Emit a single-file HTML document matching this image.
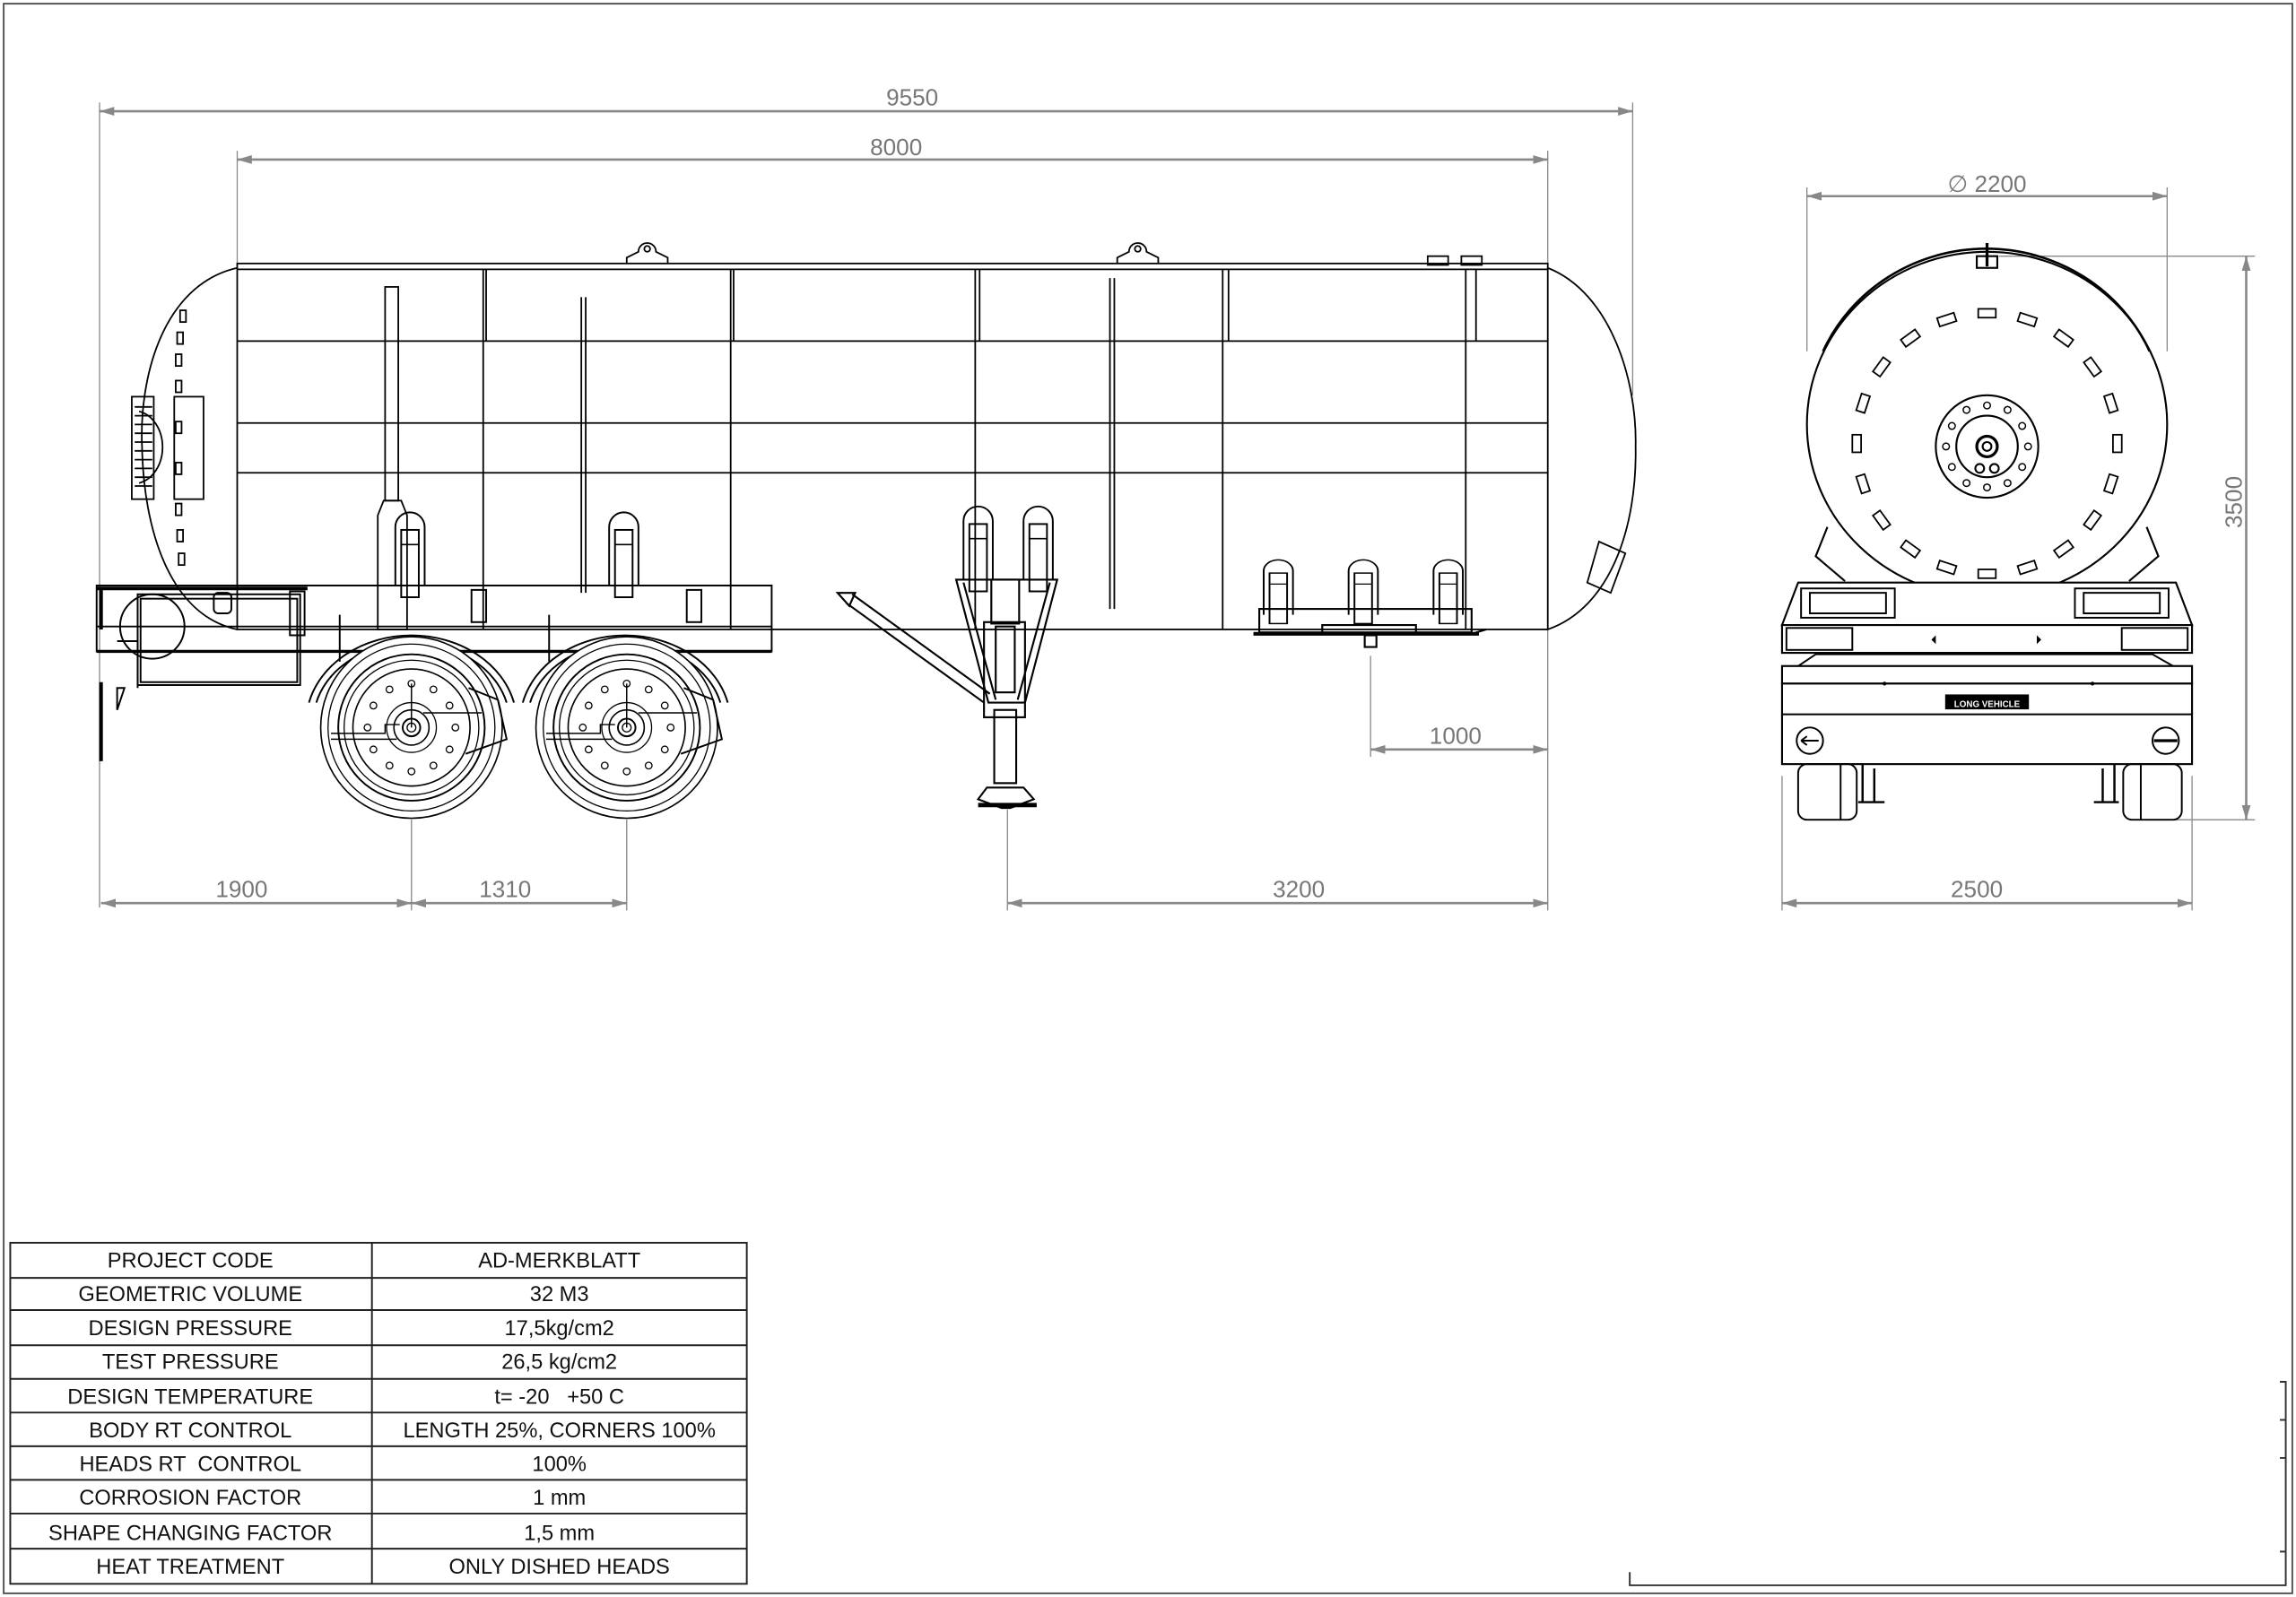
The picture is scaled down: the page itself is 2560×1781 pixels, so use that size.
<!DOCTYPE html>
<html><head><meta charset="utf-8"><style>
html,body{margin:0;padding:0;background:#fff;}
svg{display:block}
text{font-family:"Liberation Sans",sans-serif;}
</style></head><body>
<svg width="2560" height="1781" viewBox="0 0 1568 1091" preserveAspectRatio="none" xmlns="http://www.w3.org/2000/svg">
<defs>
<marker id="ar" viewBox="0 0 10 6" refX="10" refY="3" markerWidth="10" markerHeight="6" markerUnits="userSpaceOnUse" orient="auto-start-reverse"><path d="M0,0 L10,3 L0,6 z" fill="#888"/></marker>
<g id="wheel">
<circle r="62" fill="#fff" stroke="#000" stroke-width="1"/>
<circle r="57" fill="none" stroke="#000" stroke-width="0.8"/>
<circle r="50" fill="none" stroke="#000" stroke-width="1.2"/>
<circle r="46" fill="none" stroke="#000" stroke-width="0.8"/>
<circle r="40" fill="none" stroke="#000" stroke-width="1"/>
<circle r="17" fill="none" stroke="#000" stroke-width="0.8"/>
<circle r="12" fill="none" stroke="#000" stroke-width="1"/>
<circle r="6" fill="none" stroke="#000" stroke-width="1.2"/>
<circle r="3" fill="none" stroke="#000" stroke-width="0.8"/>
<g fill="none" stroke="#000" stroke-width="0.8">
<circle cx="0" cy="-30" r="2.3"/><circle cx="0" cy="30" r="2.3"/><circle cx="30" cy="0" r="2.3"/><circle cx="-30" cy="0" r="2.3"/>
<circle cx="15" cy="-26" r="2.3"/><circle cx="26" cy="-15" r="2.3"/><circle cx="26" cy="15" r="2.3"/><circle cx="15" cy="26" r="2.3"/>
<circle cx="-15" cy="-26" r="2.3"/><circle cx="-26" cy="-15" r="2.3"/><circle cx="-26" cy="15" r="2.3"/><circle cx="-15" cy="26" r="2.3"/>
</g>
<path d="M-55,4 H-18 V-2 H-8 M8,-10 H48 M-55,8 H-10 M0,-30 V0" fill="none" stroke="#000" stroke-width="0.9"/>
</g>
<g id="hand">
<path d="M-10,40 V0 A10,10 0 0 1 10,0 V40" fill="none" stroke="#000" stroke-width="1.2"/>
<rect x="-6" y="2" width="12" height="46" fill="none" stroke="#000" stroke-width="1.2"/>
<line x1="-6" y1="12" x2="6" y2="12" stroke="#000"/>
</g>
<rect id="dash" x="-6" y="-3" width="12" height="6" fill="none" stroke="#000" stroke-width="1.1"/>
<rect id="hd" x="-2" y="-4" width="4" height="8" fill="none" stroke="#000" stroke-width="1.1"/>
</defs>

<rect x="2.5" y="2.5" width="1563" height="1086" fill="none" stroke="#555" stroke-width="1.2"/>
<path d="M1113,1074 V1083 H1561 V944 H1557 M1557,970 H1561 M1557,996 H1561 M1557,1060 H1561" fill="none" stroke="#333" stroke-width="1.2"/>

<g stroke="#888" stroke-width="0.8" fill="none">
<line x1="68" y1="70" x2="68" y2="620"/>
<line x1="1115" y1="70" x2="1115" y2="270"/>
<line x1="162" y1="103" x2="162" y2="180"/>
<line x1="1057" y1="103" x2="1057" y2="180"/>
<line x1="1057" y1="430" x2="1057" y2="622"/>
<line x1="281" y1="560" x2="281" y2="622"/>
<line x1="428" y1="560" x2="428" y2="622"/>
<line x1="688" y1="553" x2="688" y2="622"/>
<line x1="936" y1="448" x2="936" y2="517"/>
<line x1="1234" y1="128" x2="1234" y2="240"/>
<line x1="1480" y1="128" x2="1480" y2="240"/>
<line x1="1217" y1="530" x2="1217" y2="622"/>
<line x1="1497" y1="530" x2="1497" y2="622"/>
<line x1="1365" y1="175" x2="1540" y2="175"/>
<line x1="1480" y1="560" x2="1540" y2="560"/>
</g>
<g stroke="#888" stroke-width="1.6" fill="none" marker-start="url(#ar)" marker-end="url(#ar)">
<line x1="68" y1="76" x2="1115" y2="76"/>
<line x1="162" y1="109" x2="1057" y2="109"/>
<line x1="69" y1="617" x2="281" y2="617"/>
<line x1="281" y1="617" x2="428" y2="617"/>
<line x1="688" y1="617" x2="1057" y2="617"/>
<line x1="936" y1="512" x2="1057" y2="512"/>
<line x1="1234" y1="134" x2="1480" y2="134"/>
<line x1="1217" y1="617" x2="1497" y2="617"/>
<line x1="1534" y1="175" x2="1534" y2="560"/>
</g>
<g fill="#777" font-size="16" text-anchor="middle">
<text x="623" y="72">9550</text>
<text x="612" y="106">8000</text>
<text x="165" y="613">1900</text>
<text x="345" y="613">1310</text>
<text x="887" y="613">3200</text>
<text x="994" y="508">1000</text>
<text x="1357" y="131">∅ 2200</text>
<text x="1350" y="613">2500</text>
<text x="1531" y="343" transform="rotate(-90 1531 343)">3500</text>
</g>

<g fill="none" stroke="#000" stroke-width="1.1">
<path d="M162,183 C110,195 95,260 97,305 C98,360 115,420 162,430"/>
<path d="M1057,183 C1100,200 1118,260 1117,305 C1118,360 1100,415 1057,430"/>
<rect x="162" y="180" width="895" height="250"/>
<line x1="162" y1="184" x2="1057" y2="184"/>
<line x1="162" y1="233" x2="1057" y2="233"/>
<line x1="162" y1="289" x2="1057" y2="289"/>
<line x1="162" y1="323" x2="1057" y2="323"/>
<line x1="330" y1="184" x2="330" y2="430"/><line x1="332" y1="184" x2="332" y2="233"/>
<line x1="499" y1="184" x2="499" y2="430"/><line x1="501" y1="184" x2="501" y2="233"/>
<line x1="666" y1="184" x2="666" y2="430"/><line x1="669" y1="184" x2="669" y2="233"/>
<line x1="835" y1="184" x2="835" y2="430"/><line x1="839" y1="184" x2="839" y2="233"/>
<line x1="1001" y1="184" x2="1001" y2="430"/><line x1="1008" y1="184" x2="1008" y2="233"/>
<rect x="975" y="175" width="14" height="6"/><rect x="998" y="175" width="14" height="6"/>
<path d="M428,180 V176 L436,172 A6,6 0 0 1 448,172 L456,176 V180"/><circle cx="442" cy="170" r="2"/>
<path d="M763,180 V176 L771,172 A6,6 0 0 1 783,172 L791,176 V180"/><circle cx="777" cy="170" r="2"/>
<rect x="90" y="271" width="15" height="70"/>
<path d="M92,278 H104 M92,284 H104 M92,290 H104 M92,296 H104 M92,302 H104 M92,308 H104 M92,314 H104 M92,320 H104 M92,326 H104 M92,332 H104"/>
<path d="M95,281 A20,25 0 0 1 95,330"/>
<rect x="119" y="271" width="20" height="70"/>
<path d="M1092,370 L1110,378 L1100,405 L1084,398 Z"/>
<rect x="263" y="196" width="9" height="146"/>
<path d="M262,342 H274 L278,352 V430 H258 V352 Z"/>
<line x1="397" y1="203" x2="397" y2="405"/><line x1="400" y1="203" x2="400" y2="405"/>
<line x1="758" y1="190" x2="758" y2="416"/><line x1="761" y1="190" x2="761" y2="416"/>
</g>
<use href="#hd" x="125" y="216"/><use href="#hd" x="123" y="231"/><use href="#hd" x="122" y="246"/>
<use href="#hd" x="122" y="264"/><use href="#hd" x="122" y="292"/><use href="#hd" x="122" y="320"/>
<use href="#hd" x="122" y="348"/><use href="#hd" x="123" y="366"/><use href="#hd" x="124" y="382"/>
<g transform="translate(280,360)"><use href="#hand"/></g>
<g transform="translate(426,360)"><use href="#hand"/></g>
<g transform="translate(668,356)"><use href="#hand"/></g>
<g transform="translate(709,356)"><use href="#hand"/></g>
<g transform="translate(873,390) scale(1,0.75)"><use href="#hand"/></g>
<g transform="translate(931,390) scale(1,0.75)"><use href="#hand"/></g>
<g transform="translate(989,390) scale(1,0.75)"><use href="#hand"/></g>
<g fill="none" stroke="#000" stroke-width="1.3">
<rect x="860" y="416" width="145" height="16"/>
<line x1="856" y1="433" x2="1010" y2="433" stroke-width="2.5"/>
<line x1="1005" y1="433" x2="1015" y2="430"/>
<rect x="903" y="427" width="64" height="6"/>
<rect x="932" y="434" width="8" height="8"/>
</g>

<g fill="none" stroke="#000" stroke-width="1.2">
<rect x="66" y="400" width="461" height="45"/>
<line x1="66" y1="402" x2="210" y2="402" stroke-width="2.5"/>
<line x1="66" y1="428" x2="527" y2="428"/>
<line x1="66" y1="445" x2="527" y2="445" stroke-width="2"/>
<rect x="94" y="406" width="111" height="62"/>
<rect x="96" y="409" width="107" height="57"/>
<circle cx="104" cy="428" r="22"/>
<path d="M69,402 V430 M69,466 V520" stroke-width="2.5"/>
<path d="M80,438 H94 V470 M80,470 H85 L80,485 Z"/>
<rect x="146" y="405" width="12" height="14" rx="3"/>
<rect x="198" y="404" width="10" height="30"/>
<line x1="232" y1="420" x2="232" y2="452"/>
<line x1="375" y1="420" x2="375" y2="452"/>
<rect x="322" y="403" width="10" height="22"/>
<rect x="469" y="403" width="10" height="22"/>
</g>
<g fill="none" stroke="#000" stroke-width="1.2">
<path d="M211,480 A72,60 0 0 1 351,480"/>
<path d="M216,480 A67,54 0 0 1 346,480"/>
<path d="M357,480 A72,60 0 0 1 497,480"/>
<path d="M362,480 A67,54 0 0 1 492,480"/>
</g>
<use href="#wheel" x="281" y="497"/>
<use href="#wheel" x="428" y="497"/>
<g fill="none" stroke="#000" stroke-width="1.2">
<path d="M320,470 L340,478 L346,505 L318,515"/>
<path d="M467,470 L487,478 L493,505 L465,515"/>
</g>

<g fill="none" stroke="#000" stroke-width="1.3">
<path d="M653,396 H722 L700,480 H675 Z"/>
<path d="M658,398 L680,478 M717,398 L695,478"/>
<rect x="677" y="396" width="19" height="30"/>
<rect x="672" y="425" width="28" height="65"/>
<rect x="680" y="428" width="13" height="45"/>
<rect x="679" y="485" width="15" height="50"/>
<path d="M674,538 H699 L706,546 L690,552 H684 L668,546 Z"/>
<line x1="668" y1="550" x2="708" y2="550" stroke-width="3"/>
<path d="M578,412 L672,480 M582,406 L676,474"/>
<path d="M572,405 H584 L580,414 Z"/>
</g>

<g fill="none" stroke="#000" stroke-width="1.3">
<ellipse cx="1357" cy="290" rx="123" ry="118"/>
<path d="M1245,240 A122,118 0 0 1 1468,240" stroke-width="1.6"/>
<rect x="1350" y="175" width="14" height="8"/>
<line x1="1357" y1="166" x2="1357" y2="182" stroke-width="2"/>
<ellipse cx="1357" cy="305" rx="35" ry="35"/>
<ellipse cx="1357" cy="305" rx="21" ry="21"/>
<circle cx="1357" cy="305" r="7" stroke-width="2"/>
<circle cx="1357" cy="305" r="3"/>
<circle cx="1352" cy="320" r="3"/><circle cx="1362" cy="320" r="3"/>
<g stroke-width="0.9">
<circle cx="1357" cy="277" r="2.3"/><circle cx="1357" cy="333" r="2.3"/><circle cx="1329" cy="305" r="2.3"/><circle cx="1385" cy="305" r="2.3"/>
<circle cx="1371" cy="280" r="2.3"/><circle cx="1381" cy="291" r="2.3"/><circle cx="1381" cy="319" r="2.3"/><circle cx="1371" cy="330" r="2.3"/>
<circle cx="1343" cy="280" r="2.3"/><circle cx="1333" cy="291" r="2.3"/><circle cx="1333" cy="319" r="2.3"/><circle cx="1343" cy="330" r="2.3"/>
</g>
<path d="M1248,360 L1240,380 L1260,397 M1466,360 L1474,380 L1454,397"/>
</g>
<g transform="translate(1357,303)">
<use href="#dash" transform="rotate(0) translate(0,-89)"/>
<use href="#dash" transform="rotate(18) translate(0,-89)"/>
<use href="#dash" transform="rotate(36) translate(0,-89)"/>
<use href="#dash" transform="rotate(54) translate(0,-89)"/>
<use href="#dash" transform="rotate(72) translate(0,-89)"/>
<use href="#dash" transform="rotate(90) translate(0,-89)"/>
<use href="#dash" transform="rotate(108) translate(0,-89)"/>
<use href="#dash" transform="rotate(126) translate(0,-89)"/>
<use href="#dash" transform="rotate(144) translate(0,-89)"/>
<use href="#dash" transform="rotate(162) translate(0,-89)"/>
<use href="#dash" transform="rotate(180) translate(0,-89)"/>
<use href="#dash" transform="rotate(198) translate(0,-89)"/>
<use href="#dash" transform="rotate(216) translate(0,-89)"/>
<use href="#dash" transform="rotate(234) translate(0,-89)"/>
<use href="#dash" transform="rotate(252) translate(0,-89)"/>
<use href="#dash" transform="rotate(270) translate(0,-89)"/>
<use href="#dash" transform="rotate(288) translate(0,-89)"/>
<use href="#dash" transform="rotate(306) translate(0,-89)"/>
<use href="#dash" transform="rotate(324) translate(0,-89)"/>
<use href="#dash" transform="rotate(342) translate(0,-89)"/>
</g>
<g fill="#fff" stroke="#000" stroke-width="1.3">
<path d="M1228,398 H1486 L1497,427 H1217 Z"/>
<rect x="1217" y="427" width="280" height="19"/>
<rect x="1217" y="455" width="280" height="12"/>
<rect x="1217" y="467" width="280" height="55"/>
</g>
<g fill="none" stroke="#000" stroke-width="1.2">
<rect x="1230" y="402" width="64" height="20"/><rect x="1236" y="405" width="52" height="14"/>
<rect x="1417" y="402" width="64" height="20"/><rect x="1423" y="405" width="52" height="14"/>
<rect x="1220" y="429" width="45" height="15"/><rect x="1449" y="429" width="45" height="15"/>
<path d="M1228,455 L1240,447 H1470 L1484,455"/>
<line x1="1217" y1="488" x2="1497" y2="488"/>
<rect x="1329" y="475" width="56" height="9" fill="#000"/>
<circle cx="1236" cy="506" r="9"/><path d="M1230,506 H1242 M1230,506 l4,-3 M1230,506 l4,3"/>
<circle cx="1479" cy="506" r="9"/><line x1="1471" y1="506" x2="1487" y2="506" stroke-width="2"/>
<rect x="1228" y="522" width="40" height="38" rx="6"/><line x1="1257" y1="522" x2="1257" y2="560"/>
<rect x="1450" y="522" width="40" height="38" rx="6"/><line x1="1462" y1="522" x2="1462" y2="560"/>
<path d="M1272,522 V548 M1280,525 V548 M1269,548 H1287" stroke-width="1.5"/>
<path d="M1444,522 V548 M1436,525 V548 M1430,548 H1447" stroke-width="1.5"/>
</g>
<circle cx="1287" cy="467" r="1.3" fill="#000"/><circle cx="1429" cy="467" r="1.3" fill="#000"/>
<path d="M1322,434 l-3,3 l3,3 z M1391,434 l3,3 l-3,3 z" fill="#000"/>
<text x="1357" y="483" font-size="6" fill="#fff" text-anchor="middle" font-weight="bold">LONG VEHICLE</text>

<g stroke="#222" stroke-width="1.2" fill="none">
<rect x="7" y="849" width="503" height="233"/>
<line x1="254" y1="849" x2="254" y2="1082"/>
<line x1="7" y1="873" x2="510" y2="873"/>
<line x1="7" y1="895" x2="510" y2="895"/>
<line x1="7" y1="919" x2="510" y2="919"/>
<line x1="7" y1="942" x2="510" y2="942"/>
<line x1="7" y1="965" x2="510" y2="965"/>
<line x1="7" y1="988" x2="510" y2="988"/>
<line x1="7" y1="1011" x2="510" y2="1011"/>
<line x1="7" y1="1034" x2="510" y2="1034"/>
<line x1="7" y1="1058" x2="510" y2="1058"/>
</g>
<g font-size="14.5" fill="#111" text-anchor="middle">
<text x="130" y="866">PROJECT CODE</text><text x="382" y="866">AD-MERKBLATT</text>
<text x="130" y="889">GEOMETRIC VOLUME</text><text x="382" y="889">32 M3</text>
<text x="130" y="912">DESIGN PRESSURE</text><text x="382" y="912">17,5kg/cm2</text>
<text x="130" y="935">TEST PRESSURE</text><text x="382" y="935">26,5 kg/cm2</text>
<text x="130" y="959">DESIGN TEMPERATURE</text><text x="382" y="959">t= -20 &#160;&#160;+50 C</text>
<text x="130" y="982">BODY RT CONTROL</text><text x="382" y="982">LENGTH 25%, CORNERS 100%</text>
<text x="130" y="1005">HEADS RT &#160;CONTROL</text><text x="382" y="1005">100%</text>
<text x="130" y="1028">CORROSION FACTOR</text><text x="382" y="1028">1 mm</text>
<text x="130" y="1052">SHAPE CHANGING FACTOR</text><text x="382" y="1052">1,5 mm</text>
<text x="130" y="1075">HEAT TREATMENT</text><text x="382" y="1075">ONLY DISHED HEADS</text>
</g>
</svg>
</body></html>
